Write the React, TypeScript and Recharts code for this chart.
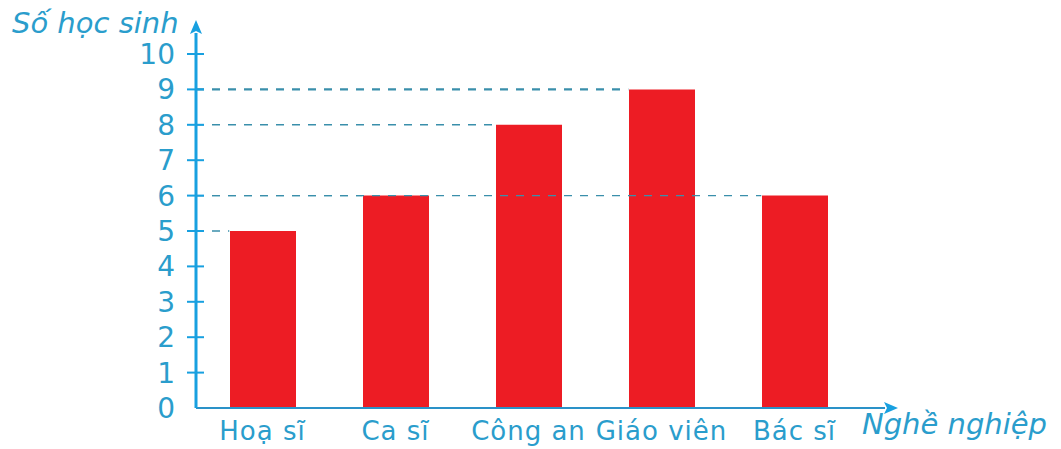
import React from "react";
import { BarChart, Bar, XAxis, YAxis, ReferenceLine } from "recharts";

const jobs = ["Hoạ sĩ", "Ca sĩ", "Công an", "Giáo viên", "Bác sĩ"];
const students = [5, 6, 8, 9, 6];
const yTicks = [0, 1, 2, 3, 4, 5, 6, 7, 8, 9, 10];

const data = jobs.map((job, i) => ({ job, students: students[i], idx: i }));
const maxValue = Math.max(...students);

const AXIS_BLUE = "#18a0e0";
const TEXT_BLUE = "#2a9dcc";
const DASH = "#3a8fab";
const FONT = "'DejaVu Sans', sans-serif";
// share of each category band left empty before the bar starts
const BAR_INSET = 0.25;

const YTick = ({ x, y, payload }: any) => (
  <g>
    {payload.value !== 0 && (
      <line x1={x + 12} x2={x + 29} y1={y} y2={y} stroke={AXIS_BLUE} strokeWidth={2} />
    )}
    <text x={x} y={y} dy="0.36em" textAnchor="end" fill={TEXT_BLUE} fontSize={28} fontFamily={FONT}>
      {payload.value}
    </text>
  </g>
);

export default function App() {
  return (
    <div style={{ position: "absolute", left: 0, top: 0, width: 1061, height: 449, background: "#fff" }}>
      <svg width={0} height={0} style={{ position: "absolute" }}>
        <defs>
          <marker id="arrowHead" markerWidth={14} markerHeight={12} refX={1} refY={6} orient="auto-start-reverse" markerUnits="userSpaceOnUse">
            <path d="M0,0 L14,6 L0,12 L3,6 z" fill={AXIS_BLUE} />
          </marker>
        </defs>
      </svg>
      <BarChart width={1061} height={449} data={data} margin={{ top: 33, right: 176, bottom: 1, left: 136 }}>
        <XAxis
          xAxisId="cat"
          dataKey="job"
          padding={{ left: 0, right: 24 }}
          height={40}
          tickLine={false}
          tickSize={0}
          tickMargin={14}
          axisLine={{ stroke: "#2a92c8", strokeWidth: 2, markerEnd: "url(#arrowHead)" }}
          tick={{ fill: TEXT_BLUE, fontSize: 26, fontFamily: FONT, letterSpacing: 1 }}
          interval={0}
        />
        <XAxis xAxisId="idx" type="number" dataKey="idx" domain={[0, jobs.length]} padding={{ left: 0, right: 24 }} hide />
        <YAxis
          width={60}
          domain={[0, 10]}
          ticks={yTicks}
          interval={0}
          padding={{ top: 21, bottom: 0 }}
          tickSize={9}
          tickMargin={12}
          tickLine={false}
          axisLine={{ stroke: AXIS_BLUE, strokeWidth: 3, markerStart: "url(#arrowHead)" }}
          tick={<YTick />}
        />
        {data.map((d, i) => (
          <ReferenceLine
            key={d.job}
            xAxisId="idx"
            segment={[
              { x: 0, y: d.students },
              { x: i + BAR_INSET, y: d.students },
            ]}
            stroke={DASH}
            strokeWidth={d.students === maxValue ? 2.4 : 1.4}
            strokeDasharray="8 8"
          />
        ))}
        <Bar xAxisId="cat" dataKey="students" fill="#ed1c24" barSize={66} isAnimationActive={false} />
      </BarChart>
      <svg width={1061} height={449} style={{ position: "absolute", left: 0, top: 0, pointerEvents: "none" }}>
        <text x={12} y={33} fill={TEXT_BLUE} fontSize={29} fontStyle="italic" fontFamily={FONT}>
          Số học sinh
        </text>
        <text x={862} y={434} fill={TEXT_BLUE} fontSize={29} fontStyle="italic" fontFamily={FONT}>
          Nghề nghiệp
        </text>
      </svg>
    </div>
  );
}
